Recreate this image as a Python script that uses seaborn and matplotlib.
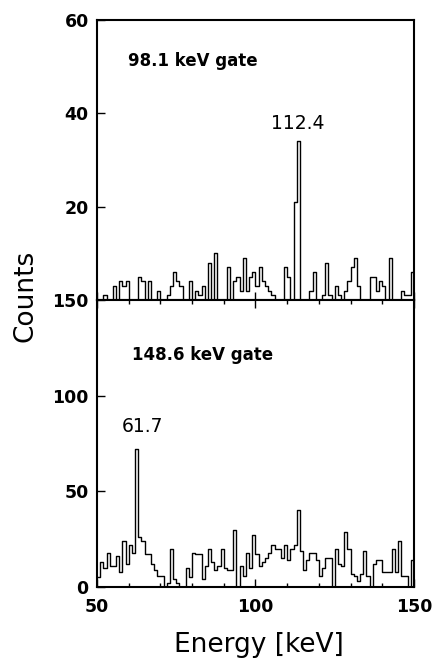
# ========== Libraries ==========

import numpy as np
import pandas as pd
import matplotlib
matplotlib.use("Agg")
import matplotlib.pyplot as plt
from matplotlib.ticker import MultipleLocator
import seaborn as sns


# ========== Data ==========

# 1 keV bins from 50 to 150 keV (bin centres)
energy = np.arange(50, 150) + 0.5

# 98.1 keV gate, counts per bin (50 ... 149 keV)
counts_981 = [
    0, 0, 1, 0, 0, 3, 0, 4, 3, 4,
    0, 0, 0, 5, 4, 0, 4, 0, 0, 2,
    0, 0, 1, 3, 6, 4, 3, 0, 0, 4,
    0, 2, 1, 3, 0, 8, 0, 10, 0, 0,
    0, 7, 0, 4, 5, 2, 9, 2, 5, 6,
    3, 7, 4, 3, 2, 1, 0, 0, 0, 7,
    5, 0, 21, 34, 0, 0, 0, 2, 6, 0,
    0, 1, 8, 1, 0, 3, 1, 0, 2, 4,
    7, 9, 3, 0, 0, 0, 5, 5, 2, 4,
    3, 0, 9, 0, 0, 0, 2, 1, 1, 6,
]

# 148.6 keV gate, counts per bin (50 ... 149 keV)
counts_1486 = [
    5, 13, 10, 18, 11, 11, 16, 8, 24, 12,
    22, 18, 72, 26, 24, 17, 17, 12, 9, 6,
    6, 0, 2, 20, 4, 2, 0, 0, 10, 5,
    18, 17, 17, 4, 11, 20, 13, 9, 11, 20,
    10, 9, 9, 30, 0, 11, 6, 18, 10, 27,
    17, 11, 13, 15, 18, 22, 20, 20, 15, 22,
    14, 20, 22, 40, 19, 9, 14, 18, 18, 14,
    6, 10, 15, 15, 0, 20, 12, 11, 29, 20,
    7, 6, 3, 7, 19, 6, 0, 12, 14, 14,
    8, 8, 8, 20, 8, 24, 6, 6, 0, 14,
]

df = pd.DataFrame({"energy": energy, "g981": counts_981, "g1486": counts_1486})


# ========== Plot ==========

sns.set_style("ticks")
plt.rcParams["font.family"] = ["DejaVu Sans"]
plt.rcParams["text.color"] = "black"
plt.rcParams["xtick.color"] = "black"
plt.rcParams["ytick.color"] = "black"

fig = plt.figure(figsize=(4.39, 6.66), dpi=100)
ax_top = fig.add_axes([0.221, 0.5495, 0.722, 0.4204])
ax_bot = fig.add_axes([0.221, 0.1186, 0.722, 0.4309], sharex=ax_top)

# ---------- step histograms ----------
sns.histplot(data=df, x="energy", weights="g981", binwidth=1, binrange=(50, 150),
             element="step", fill=False, color="black", linewidth=1.0, ax=ax_top)
sns.histplot(data=df, x="energy", weights="g1486", binwidth=1, binrange=(50, 150),
             element="step", fill=False, color="black", linewidth=1.0, ax=ax_bot)

# ---------- axes ----------
ax_top.set_xlim(50, 150)
ax_top.set_ylim(0, 60)
ax_bot.set_ylim(0, 150)

ax_top.set_yticks([20, 40, 60])
ax_bot.set_yticks([0, 50, 100, 150])
ax_bot.set_xticks([50, 100, 150])
ax_bot.xaxis.set_minor_locator(MultipleLocator(10))

for ax in (ax_top, ax_bot):
    for s in ax.spines.values():
        s.set_visible(True)
        s.set_linewidth(1.5)
        s.set_color("black")
    ax.set_xlabel("")
    ax.set_ylabel("")
    ax.tick_params(axis="both", which="major", direction="in", length=6,
                   width=1.0, labelsize=12.5, color="black", labelcolor="black")
    ax.tick_params(axis="x", which="minor", direction="in", length=3, width=1.0)
    for lab in ax.get_yticklabels() + ax.get_xticklabels():
        lab.set_fontweight("bold")

ax_top.tick_params(axis="x", which="both", labelbottom=False)
ax_top.tick_params(axis="x", which="minor", bottom=False)
ax_bot.tick_params(axis="x", which="both", top=True)
ax_bot.tick_params(axis="x", pad=8)
ax_top.tick_params(axis="y", pad=6)
ax_bot.tick_params(axis="y", pad=6)

# ---------- labels ----------
ax_top.text(59.8, 51.2, "98.1 keV gate", fontsize=12, fontweight="bold",
            va="center", color="black")
ax_top.text(113.3, 37.8, "112.4", fontsize=13.5, ha="center", va="center",
            color="black")
ax_bot.text(61, 121.4, "148.6 keV gate", fontsize=12, fontweight="bold",
            va="center", color="black")
ax_bot.text(64.4, 84, "61.7", fontsize=13.5, ha="center", va="center", color="black")

fig.text(0.057, 0.556, "Counts", rotation=90, fontsize=19, ha="center", va="center",
         color="black")
fig.text(0.59, 0.032, "Energy [keV]", fontsize=19, ha="center", va="center",
         color="black")

fig.savefig("out.png", dpi=100)
